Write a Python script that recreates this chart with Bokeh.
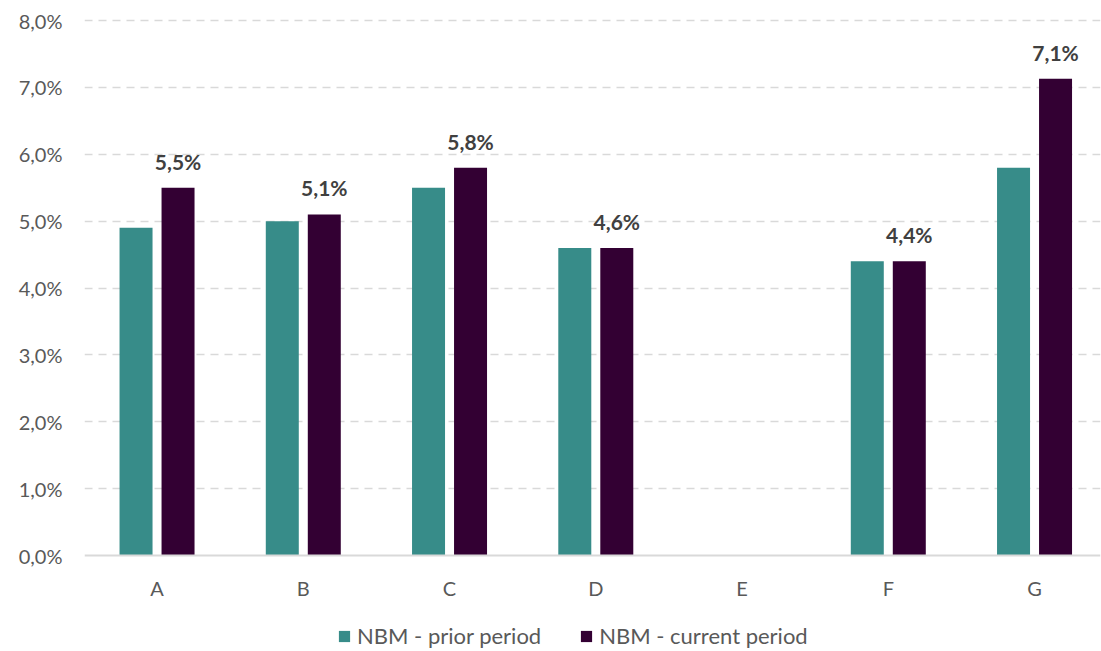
import numpy as np
from bokeh.plotting import figure
from bokeh.models import Range1d, FixedTicker, Legend, LegendItem, Span
from bokeh.core.properties import value
from bokeh.embed import file_html
from bokeh.resources import INLINE

categories = ["A", "B", "C", "D", "E", "F", "G"]
prior_period = [4.9, 5.0, 5.5, 4.6, np.nan, 4.4, 5.8]
current_period = [5.5, 5.1, 5.8, 4.6, np.nan, 4.4, 7.13]
y_ticks = [0, 1, 2, 3, 4, 5, 6, 7, 8]
series_names = ["NBM - prior period", "NBM - current period"]
colors = ["#378C89", "#330033"]

FONT = "Lato"
pos = np.arange(len(categories)) + 0.5
labels = ["" if np.isnan(v) else f"{v:.1f}%".replace(".", ",") for v in current_period]

px_per_unit = 535 / 8
p = figure(frame_width=1016, frame_height=636, output_backend="svg", toolbar_location=None,
           x_range=Range1d(0.004, 6.951),
           y_range=Range1d(-96 / px_per_unit, 8 + 5 / px_per_unit),
           min_border_left=84, min_border_right=1, min_border_top=15, min_border_bottom=0)
p.outline_line_color = None
p.background_fill_color = "white"

off = 0.1436
w = 0.2256
r1 = p.vbar(x=pos - off, top=prior_period, width=w, bottom=0, fill_color=colors[0], line_color=None)
r2 = p.vbar(x=pos + off, top=current_period, width=w, bottom=0, fill_color=colors[1], line_color=None)

# value labels
p.text(x=pos + off, y=current_period, text=labels, text_align="center", text_baseline="bottom",
       y_offset=-14, text_font=value(FONT), text_font_style="bold", text_font_size="21px",
       text_color="#404040")

# category labels
p.text(x=pos, y=np.zeros(len(categories)), text=categories, text_align="center",
       text_baseline="middle", y_offset=32, text_font=value(FONT), text_font_size="20px",
       text_color="#595959")

# grid
p.xgrid.grid_line_color = None
p.ygrid.ticker = FixedTicker(ticks=y_ticks[1:])
p.ygrid.grid_line_color = "#D9D9D9"
p.ygrid.grid_line_dash = "8 6"
p.ygrid.grid_line_width = 1.5
p.add_layout(Span(location=0, dimension="width", line_color="#D9D9D9", line_width=2))

# y axis
p.yaxis.ticker = FixedTicker(ticks=y_ticks)
p.yaxis.major_label_overrides = {t: f"{t:.1f}%".replace(".", ",") for t in y_ticks}
p.yaxis.axis_line_color = None
p.yaxis.major_tick_line_color = None
p.yaxis.minor_tick_line_color = None
p.yaxis.major_tick_out = 0
p.yaxis.major_label_standoff = 22
p.yaxis.major_label_text_font = FONT
p.yaxis.major_label_text_font_size = "20px"
p.yaxis.major_label_text_color = "#595959"

p.xaxis.visible = False

legend = Legend(items=[LegendItem(label=series_names[0], renderers=[r1]),
                       LegendItem(label=series_names[1], renderers=[r2])],
                orientation="horizontal", location=(253, 2),
                border_line_color=None, background_fill_alpha=0,
                label_text_font=FONT, label_text_font_size="22px", label_text_color="#595959",
                glyph_width=14, glyph_height=14, label_standoff=6, spacing=38, padding=0, margin=0)
p.add_layout(legend, "center")

open("out.html", "w").write(file_html(p, INLINE))
